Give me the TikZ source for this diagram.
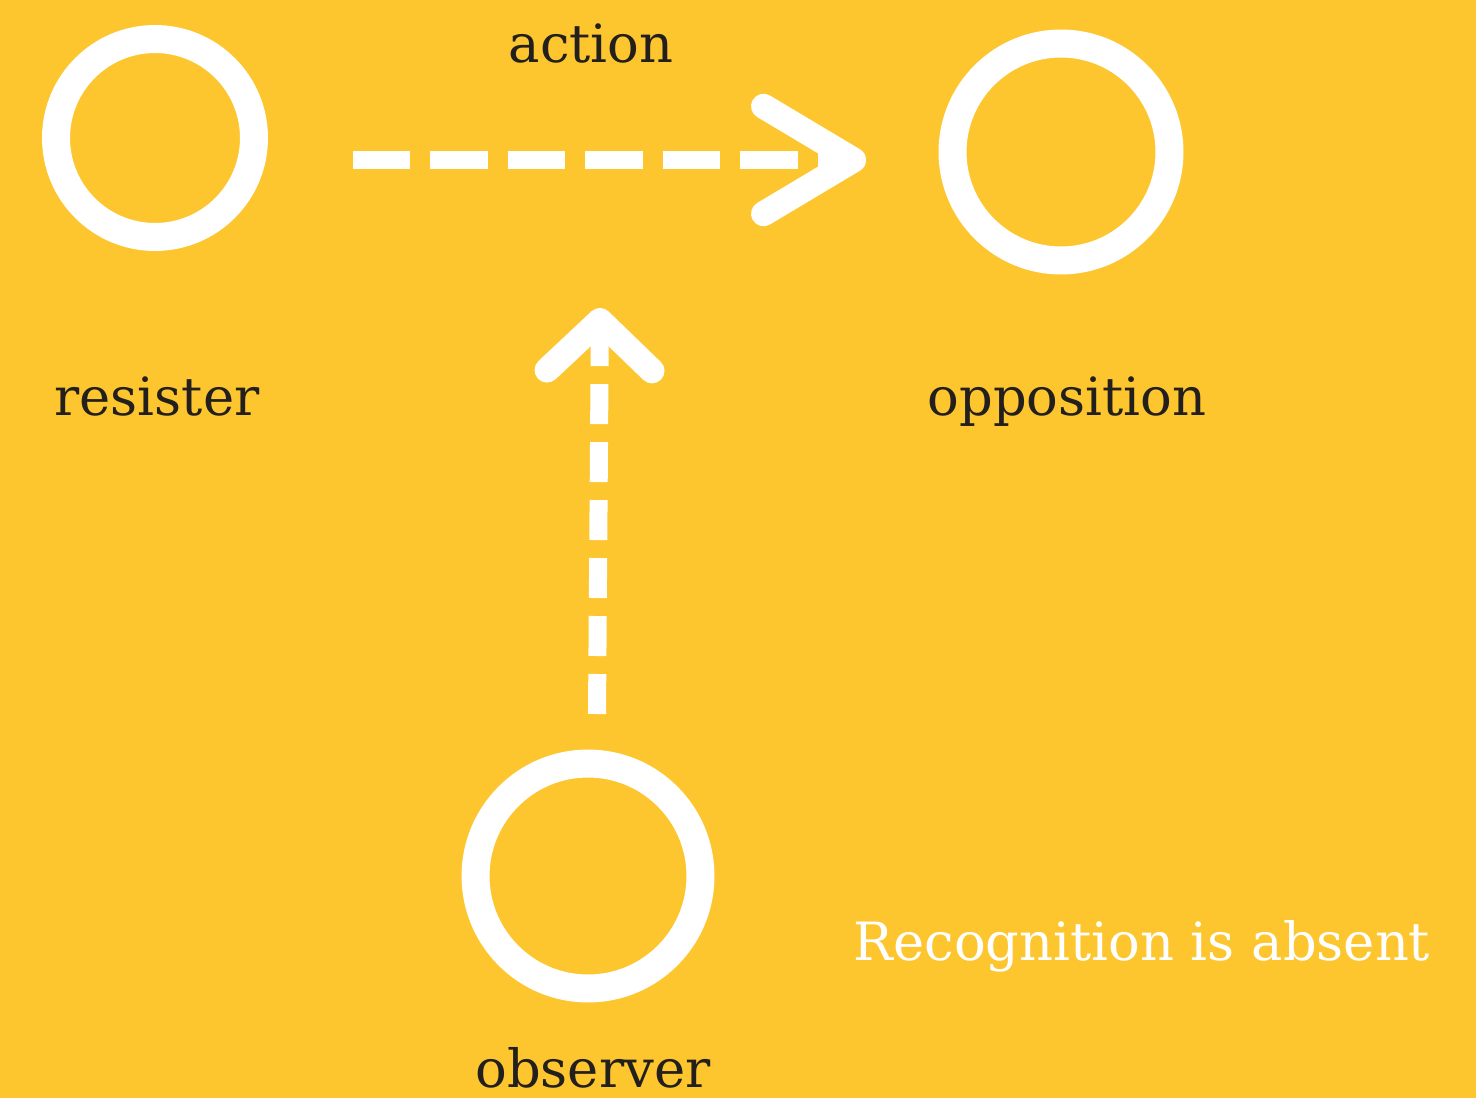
\documentclass[tikz,border=0pt]{standalone}
\usepackage{fontspec}
\setmainfont{DejaVu Serif}
\usetikzlibrary{arrows.meta}

\definecolor{bgyellow}{HTML}{FDC62F}
\definecolor{inkdark}{HTML}{231F1D}

\tikzset{
    ring/.style={circle, draw=white, line width=0.56cm, inner sep=0pt},
    word/.style={text=inkdark, font=\fontsize{30}{36}\selectfont, anchor=base, inner sep=0pt},
    trail/.style={draw=white, line width=0.36cm},
}

\begin{document}
\begin{tikzpicture}[x=0.02cm, y=-0.02cm]
    \fill[bgyellow] (0,0) rectangle (1476,1098);
    \useasboundingbox (0,0) rectangle (1476,1098);

    \node (resister) [ring, minimum size=3.96cm] at (155,138) {};
    \node (opposition) [ring, minimum size=4.34cm] at (1061,152) {};
    \node (observer) [ring, minimum size=4.5cm] at (588,876) {};

    \node (resister-txt) [word] at (157,415) {resister};
    \node (opposition-txt) [word] at (1067,415) {opposition};
    \node (observer-txt) [word] at (593,1087) {observer};
    \node (action-txt) [word] at (591,63) {action};
    \node (note) [word, text=white] at (1142,960) {Recognition is absent};

    \coordinate (act-start) at (353,160);
    \coordinate (act-end) at (866,160);
    \coordinate (obs-start) at (597,714);
    \coordinate (obs-end) at (600,308);

    \draw[trail, dash pattern=on 1.15cm off 0.4cm,
        -{Straight Barb[length=1.8cm, width=2.15cm, line width=0.5cm, round]}]
        (act-start) -- (act-end);
    \draw[trail, dash pattern=on 0.8cm off 0.36cm,
        -{Straight Barb[length=1.0cm, width=2.1cm, line width=0.5cm, round]}]
        (obs-start) -- (obs-end);
\end{tikzpicture}
\end{document}
